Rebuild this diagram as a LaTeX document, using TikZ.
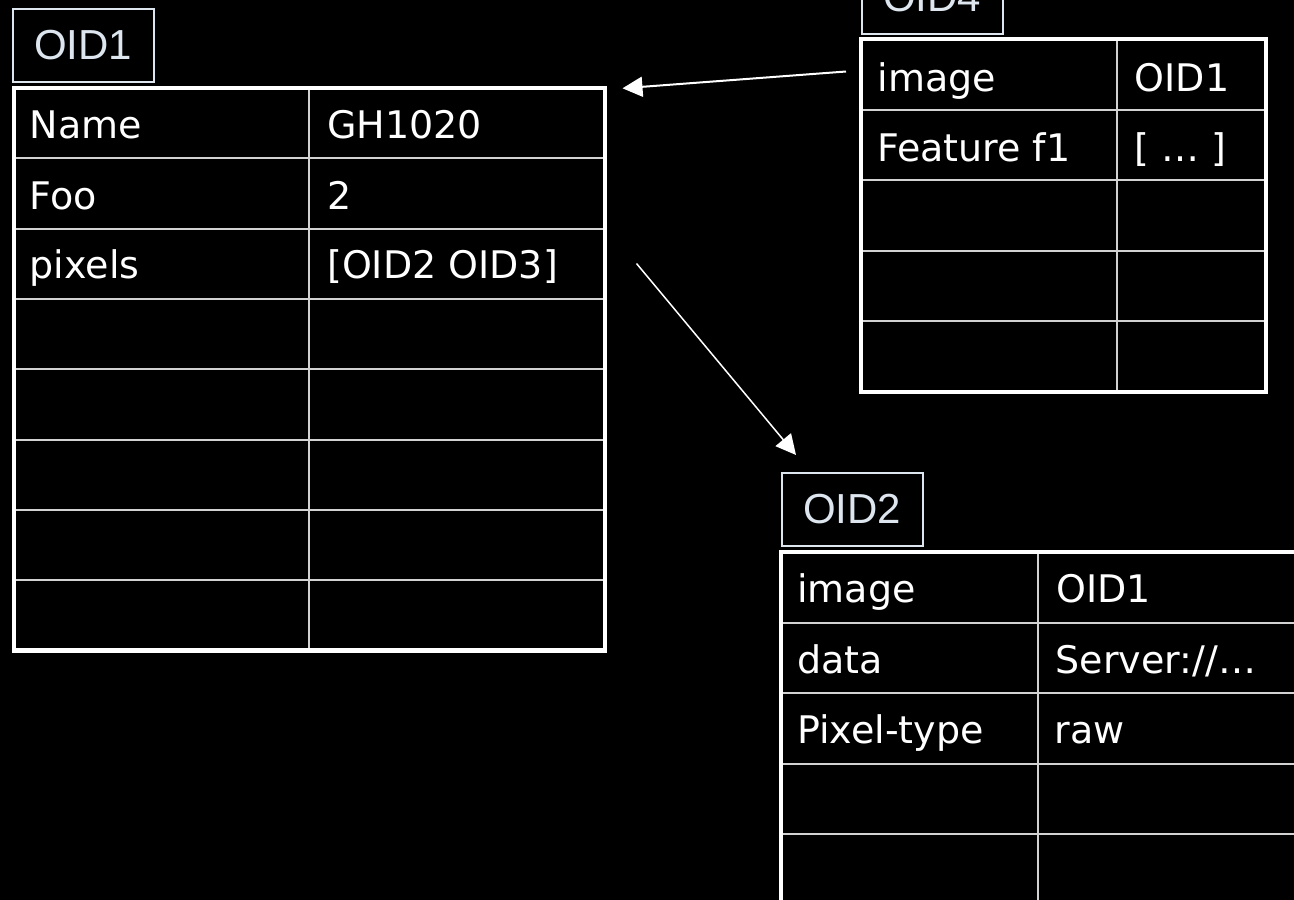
\documentclass[tikz,border=0pt]{standalone}
\usepackage{fontspec}
\setmainfont{DejaVu Sans}
\newfontfamily\tagfont{Liberation Sans}
\usetikzlibrary{arrows.meta,positioning}
\definecolor{grid gray}{HTML}{D2D2D2}
\definecolor{tag white}{HTML}{DDE5EF}

\tikzset{
  cell/.style={anchor=base west, inner sep=0pt, text=white,
    font=\fontsize{38}{40}\selectfont},
  tagbox/.style={draw=tag white, line width=1.5pt, text=tag white,
    font=\tagfont\fontsize{42}{44}\selectfont, inner sep=0pt,
    minimum width=141pt, minimum height=73pt, anchor=north west},
  gridline/.style={grid gray, line width=2pt},
  border/.style={white, line width=4.5pt},
  link/.style={white, line width=2pt, -{Triangle[length=20pt,width=20pt]}}
}

\begin{document}
\begin{tikzpicture}[x=1pt, y=-1pt]
  \useasboundingbox (0,0) rectangle (1294,900);
  \fill[black] (0,0) rectangle (1294,900);
  \clip (0,0) rectangle (1294,900);

  % object OID1
  \node[tagbox] (oid1) at (12,8) {OID1};
  \foreach \i in {1,...,7}
    \draw[gridline] (14,{88+70.3*\i}) -- (605,{88+70.3*\i});
  \draw[gridline] (308.5,88) -- (308.5,650.4);
  \draw[border] (14,88) rectangle (605,650.4);
  \node[cell] (o1name) at (29.5,138.3) {Name};
  \node[cell] (o1foo) at (29.5,209.5) {Foo};
  \node[cell] (o1pix) at (29.5,278.8) {pixels};
  \node[cell] (o1nameval) at (327,138.3) {GH1020};
  \node[cell] (o1fooval) at (327,209.5) {2};
  \node[cell] (o1pixval) at (327,278.8) {[OID2 OID3]};

  % object OID4
  \node[tagbox] (oid4) at (861,-40) {OID4};
  \foreach \i in {1,...,4}
    \draw[gridline] (861,{39+70.6*\i}) -- (1266,{39+70.6*\i});
  \draw[gridline] (1117,39) -- (1117,392);
  \draw[border] (861,39) rectangle (1266,392);
  \node[cell] (o4img) at (877.5,91.5) {image};
  \node[cell] (o4feat) at (877,161.7) {Feature f1};
  \node[cell] (o4imgval) at (1134.5,91.5) {OID1};
  \node[cell] (o4featval) at (1134.5,161.7) {[ … ]};

  % object OID2
  \node[tagbox] (oid2) at (781,472) {OID2};
  \foreach \i in {1,...,5}
    \draw[gridline] (781,{552+70.5*\i}) -- (1340,{552+70.5*\i});
  \draw[gridline] (1038,552) -- (1038,980);
  \draw[border] (781,552) rectangle (1340,980);
  \node[cell] (o2img) at (797,602.7) {image};
  \node[cell] (o2data) at (797,673.3) {data};
  \node[cell] (o2type) at (797,743.3) {Pixel-type};
  \node[cell] (o2imgval) at (1056,602.7) {OID1};
  \node[cell] (o2dataval) at (1055.5,673.3) {Server://…};
  \node[cell] (o2typeval) at (1054.5,743.3) {raw};

  % references between objects
  \coordinate (imgref) at (846,71.5);
  \coordinate (imgtip) at (622.5,88.3);
  \coordinate (pixref) at (636.5,263.5);
  \coordinate (pixtip) at (796,455);
  \draw[link] (imgref) -- (imgtip);
  \draw[link, line width=1.5pt] (pixref) -- (pixtip);
\end{tikzpicture}
\end{document}
